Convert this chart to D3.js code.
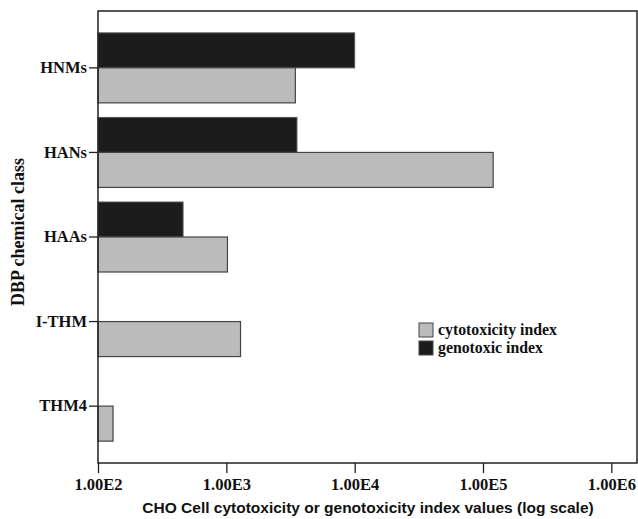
<!DOCTYPE html>
<html>
<head>
<meta charset="utf-8">
<script src="https://cdn.jsdelivr.net/npm/d3@7"></script>
<style>
  body { margin: 0; background: #fff; }
  .serif { font-family: "Liberation Serif", "DejaVu Serif", serif; font-weight: bold; }
</style>
</head>
<body>
<svg width="638" height="519"></svg>
<script>
// data
const categories = ["HNMs", "HANs", "HAAs", "I-THM", "THM4"];
const genotoxic = [10000, 3550, 460, null, null];
const cytotoxic = [3450, 120000, 1020, 1290, 131];
const tickValues = [1e2, 1e3, 1e4, 1e5, 1e6];
const tickLabels = ["1.00E2", "1.00E3", "1.00E4", "1.00E5", "1.00E6"];
const seriesNames = ["cytotoxicity index", "genotoxic index"];
const seriesColors = ["#bbbbbb", "#1c1c1c"];

const svg = d3.select("svg");
const margin = { top: 11, right: 1, bottom: 56, left: 98 };
const width = 638 - margin.left - margin.right;
const height = 519 - margin.top - margin.bottom;

const g = svg.append("g").attr("transform", `translate(${margin.left},${margin.top})`);

// x log scale: 1e2 .. ~1.6e6
const x = d3.scaleLog()
    .domain([100, Math.pow(10, 6.2)])
    .range([0, width]);

const y = d3.scaleBand()
    .domain(categories)
    .range([15, height - 15])
    .paddingInner(0.17)
    .paddingOuter(0.08);

const barH = 35;

// bars
const rows = categories.map((c, i) => ({ cat: c, geno: genotoxic[i], cyto: cytotoxic[i] }));
const center = c => y(c) + y.bandwidth() / 2;

g.selectAll(".geno")
    .data(rows.filter(d => d.geno != null))
    .join("rect")
    .attr("class", "geno")
    .attr("x", 0)
    .attr("y", d => center(d.cat) - barH)
    .attr("width", d => x(d.geno))
    .attr("height", barH)
    .attr("fill", seriesColors[1])
    .attr("stroke", "#555").attr("stroke-width", 1);

g.selectAll(".cyto")
    .data(rows)
    .join("rect")
    .attr("class", "cyto")
    .attr("x", 0)
    .attr("y", d => center(d.cat))
    .attr("width", d => x(d.cyto))
    .attr("height", barH)
    .attr("fill", seriesColors[0])
    .attr("stroke", "#444").attr("stroke-width", 1.2);

// frame (left and bottom edges double as axis lines)
g.append("rect")
    .attr("width", width).attr("height", height)
    .attr("fill", "none").attr("stroke", "#222").attr("stroke-width", 1.5);

// y axis
const yAxis = g.append("g")
    .call(d3.axisLeft(y).tickSizeInner(9).tickSizeOuter(0).tickPadding(2))
    .call(a => a.select(".domain").remove());
yAxis.selectAll(".tick line").attr("stroke", "#222").attr("stroke-width", 1.3);
yAxis.selectAll(".tick text")
    .attr("class", "serif")
    .attr("font-size", 16.5)
    .attr("fill", "#111");

// x axis
const xAxis = g.append("g")
    .attr("transform", `translate(0,${height})`)
    .call(d3.axisBottom(x).tickValues(tickValues)
        .tickFormat((d, i) => tickLabels[i]).tickSizeInner(10).tickSizeOuter(0).tickPadding(5))
    .call(a => a.select(".domain").remove());
xAxis.selectAll(".tick line").attr("stroke", "#222").attr("stroke-width", 1.3);
xAxis.selectAll(".tick text")
    .attr("class", "serif")
    .attr("font-size", 16.5)
    .attr("fill", "#111");

// axis titles
svg.append("text")
    .attr("x", 368).attr("y", 513)
    .attr("text-anchor", "middle")
    .attr("font-family", "Liberation Sans, Arial, sans-serif")
    .attr("font-weight", "bold")
    .attr("font-size", 15.5)
    .attr("fill", "#111")
    .text("CHO Cell cytotoxicity or genotoxicity index values (log scale)");

svg.append("text")
    .attr("class", "serif")
    .attr("transform", "translate(24,232) rotate(-90)")
    .attr("text-anchor", "middle")
    .attr("font-size", 18)
    .attr("fill", "#111")
    .text("DBP chemical class");

// legend
const legend = svg.append("g").attr("transform", "translate(419,323)");
seriesNames.forEach((name, i) => {
    legend.append("rect")
        .attr("x", 0).attr("y", i * 18)
        .attr("width", 14).attr("height", 14)
        .attr("fill", seriesColors[i])
        .attr("stroke", "#444").attr("stroke-width", 1);
    legend.append("text")
        .attr("class", "serif")
        .attr("x", 19).attr("y", i * 18 + 12)
        .attr("font-size", 15.8)
        .attr("fill", "#111")
        .text(name);
});
</script>
</body>
</html>
